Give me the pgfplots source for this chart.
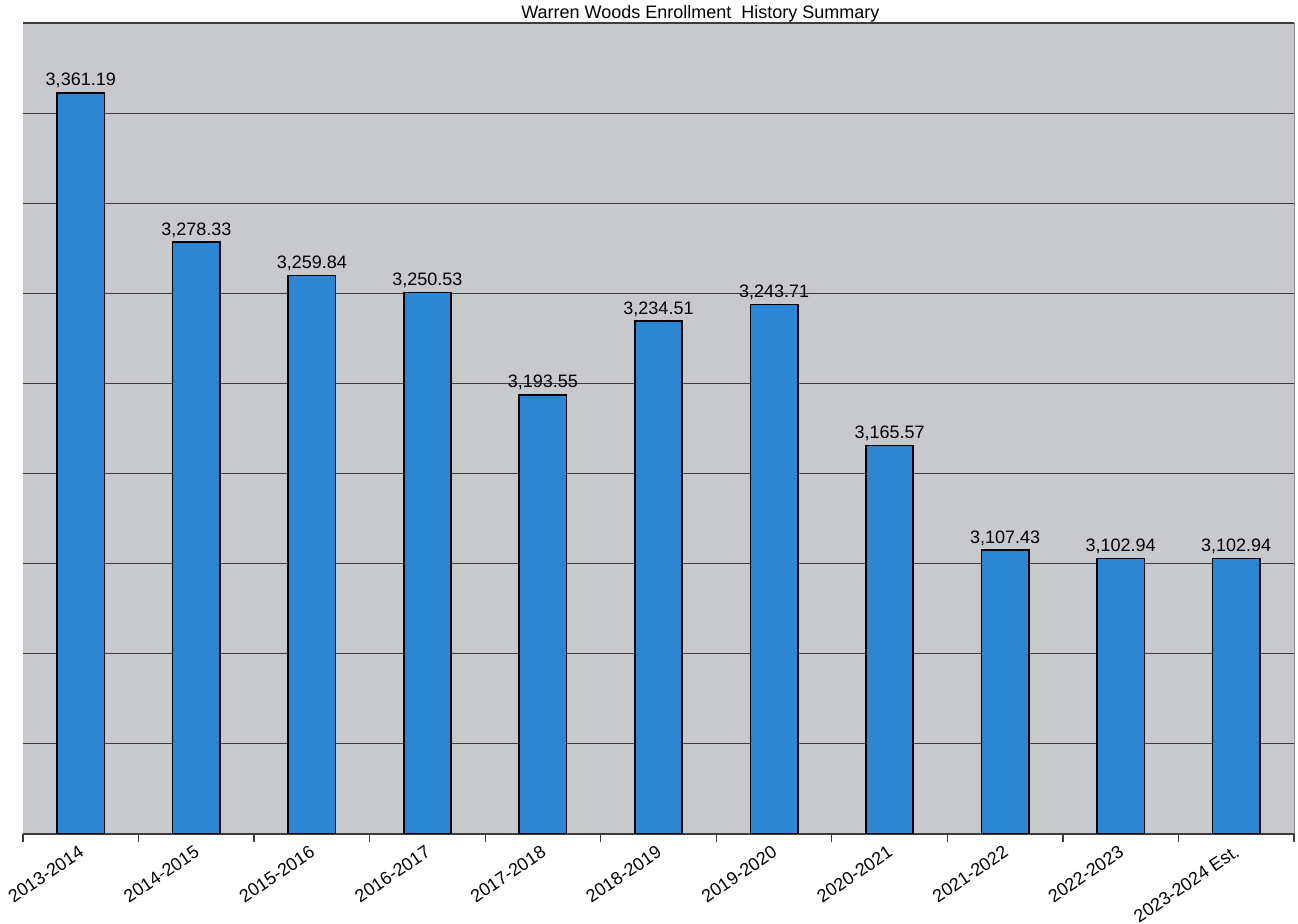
\documentclass[border=0pt]{standalone}
\usepackage{pgfplots}
\pgfplotsset{compat=1.18}
\usepackage{fontspec}
\setmainfont{Liberation Sans}
\definecolor{barblue}{RGB}{45,134,212}
\definecolor{bggray}{RGB}{200,201,204}
\definecolor{gridc}{RGB}{60,60,60}
\begin{document}
\begin{tikzpicture}
\begin{axis}[
  at={(0,0)}, anchor=south west,
  scale only axis, width=635.5pt, height=405.5pt,
  xmin=-0.5, xmax=10.5, ymin=2950, ymax=3400,
  ybar, bar width=0.41, bar shift=0pt,
  axis background/.style={fill=bggray},
  axis x line*=bottom, axis y line*=left,
  x axis line style={gridc, line width=0.7pt, -},
  y axis line style={draw=none},
  ytick={3000,3050,...,3400}, yticklabels={}, ymajorgrids=true,
  major y tick style={draw=none},
  major grid style={gridc, line width=0.55pt},
  xtick={0,...,10},
  xticklabels={2013-2014,2014-2015,2015-2016,2016-2017,2017-2018,2018-2019,2019-2020,2020-2021,2021-2022,2022-2023,2023-2024 Est.},
  major x tick style={draw=none}, major tick length=0pt,
  minor xtick={-0.5,0.5,...,10.5}, minor tick length=4pt, tick align=outside,
  minor x tick style={gridc, line width=0.6pt},
  x tick label style={rotate=34, anchor=north east, inner sep=1pt, xshift=-3pt, yshift=-2.5pt, font=\fontsize{9}{10}\selectfont},
  extra x ticks={10.5}, extra x tick labels={},
  extra x tick style={xmajorgrids=true, major grid style={gridc!60, line width=0.5pt}},
  clip mode=individual,
  nodes near coords,
  nodes near coords style={font=\fontsize{9}{10}\selectfont, inner sep=2pt},
  /pgf/number format/.cd, fixed, fixed zerofill, precision=2, 1000 sep={,}, assume math mode=true,
]
\addplot[fill=barblue, draw=black, line width=0.8pt] coordinates {
(0,3361.19) (1,3278.33) (2,3259.84) (3,3250.53) (4,3193.55) (5,3234.51)
(6,3243.71) (7,3165.57) (8,3107.43) (9,3102.94) (10,3102.94)};
\node[anchor=base, inner sep=0pt, font=\fontsize{9}{10}\selectfont] at (rel axis cs:0.533,1) [yshift=2pt] {Warren Woods Enrollment\ \ History Summary};
\end{axis}
\pgfresetboundingbox
\path[use as bounding box] (-11.5pt,-45pt) rectangle (637.5pt,417pt);
\end{tikzpicture}
\end{document}
